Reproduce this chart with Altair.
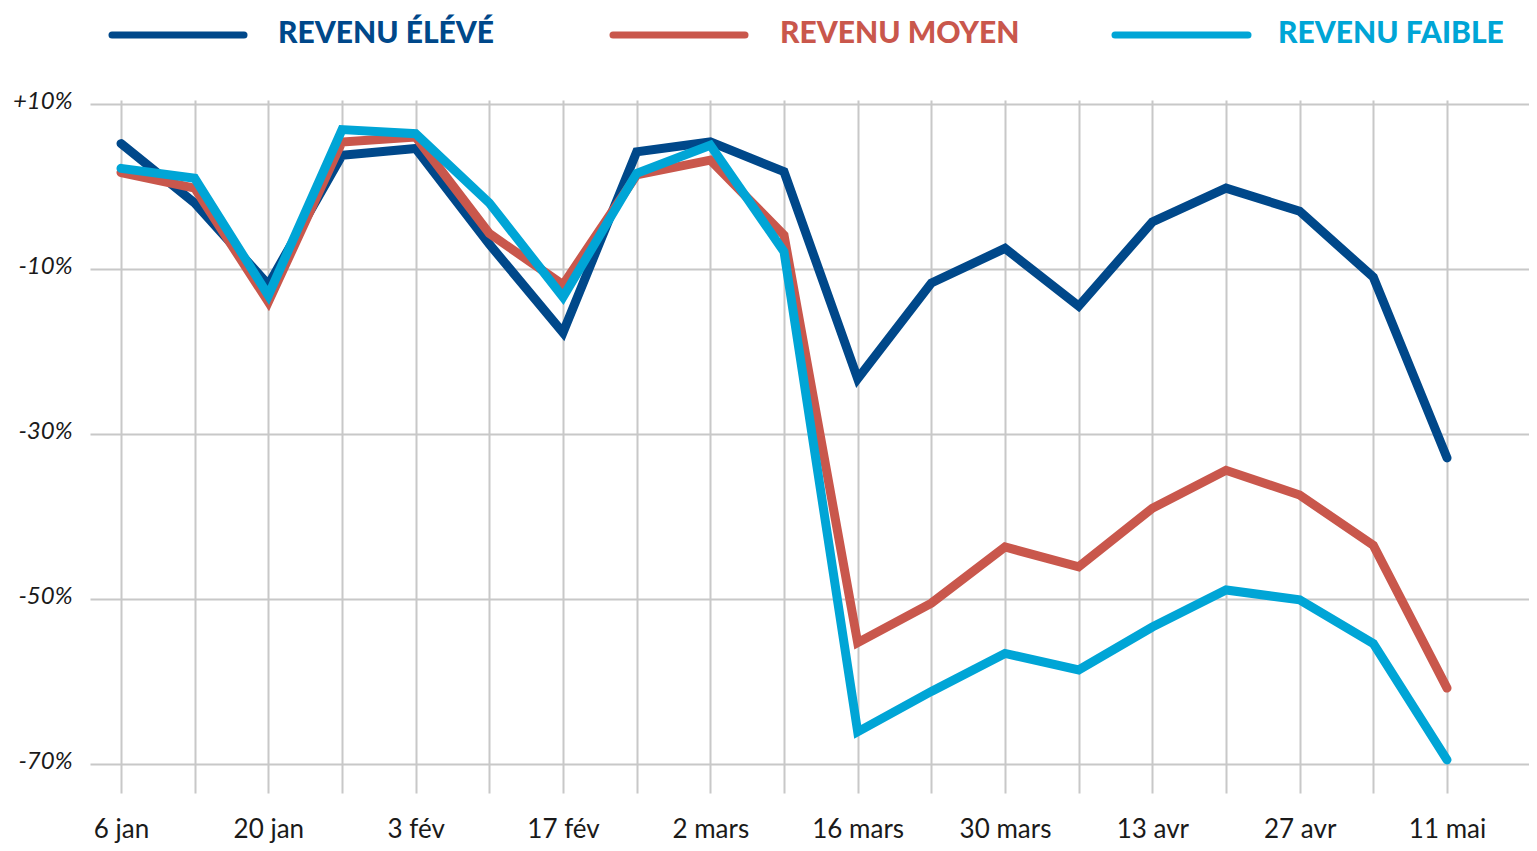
import altair as alt
import pandas as pd

# ---- data ----
semaines = ["6 jan", "13 jan", "20 jan", "27 jan", "3 fév", "10 fév", "17 fév", "24 fév",
            "2 mars", "9 mars", "16 mars", "23 mars", "30 mars", "6 avr", "13 avr",
            "20 avr", "27 avr", "4 mai", "11 mai"]
revenu_eleve = [5.2, -2.0, -11.9, 3.8, 4.6, -7.0, -17.7, 4.2, 5.4, 1.8,
                -23.3, -11.7, -7.5, -14.5, -4.3, -0.2, -3.0, -11.0, -32.9]
revenu_moyen = [1.7, -0.2, -14.0, 5.4, 6.0, -5.7, -11.9, 1.4, 3.2, -5.9,
                -55.3, -50.5, -43.7, -46.1, -39.0, -34.4, -37.4, -43.5, -60.8]
revenu_faible = [2.2, 1.0, -13.2, 6.9, 6.4, -2.0, -13.4, 1.6, 5.0, -7.9,
                 -66.1, -61.2, -56.6, -58.6, -53.4, -48.9, -50.1, -55.4, -69.5]
series = ["REVENU ÉLÉVÉ", "REVENU MOYEN", "REVENU FAIBLE"]
colors = ["#00488a", "#c9574c", "#00a5d6"]
y_ticks = [10, -10, -30, -50, -70]

values = [revenu_eleve, revenu_moyen, revenu_faible]
rows = []
for name, vals in zip(series, values):
    for i, (s, v) in enumerate(zip(semaines, vals)):
        rows.append({"i": i, "semaine": s, "serie": name, "valeur": v})
df = pd.DataFrame(rows)

shown = [s if k % 2 == 0 else "" for k, s in enumerate(semaines)]
label_expr = "[" + ",".join("'" + s + "'" for s in shown) + "][datum.value]"

LABEL_FONT = "Lato, 'Open Sans', sans-serif"
LEGEND_FONT = "Lato, 'Open Sans', sans-serif"

x_enc = alt.X("i:Q",
              scale=alt.Scale(domain=[-0.421, 19.113], nice=False, zero=False),
              axis=alt.Axis(values=list(range(len(semaines))), labelExpr=label_expr,
                            title=None, grid=True, gridColor="#c8c8c8", gridWidth=2,
                            domain=False, domainOpacity=0, ticks=False, tickSize=0,
                            labelFont=LABEL_FONT, labelFontSize=26, labelColor="#1a1a1a",
                            labelPadding=23, labelBaseline="top", labelAngle=0,
                            labelOverlap=False, labelFlush=False))
y_enc = alt.Y("valeur:Q",
              scale=alt.Scale(domain=[-73.515, 10.485], nice=False, zero=False),
              axis=alt.Axis(values=y_ticks,
                            labelExpr="(datum.value > 0 ? '+' : '') + datum.value + '%'",
                            title=None, grid=True, gridColor="#c8c8c8", gridWidth=2,
                            domain=False, domainOpacity=0, ticks=False, tickSize=0,
                            labelFont=LABEL_FONT, labelFontSize=24, labelFontStyle="italic",
                            labelColor="#1a1a1a", labelPadding=18, labelOffset=-3))

base = alt.Chart(df)
layers = []
for k, (name, col) in enumerate(zip(series, colors)):
    layers.append(
        base.transform_filter(alt.datum.serie == name)
        .mark_line(color=col, strokeWidth=9, strokeCap="round", strokeJoin="miter")
        .encode(x=x_enc, y=y_enc)
    )

# custom legend above the plot
legend_line_x = [(22, 154), (523, 655), (1025, 1158)]
legend_text_x = [188, 690, 1188]
for name, col, (lx1, lx2), tx in zip(series, colors, legend_line_x, legend_text_x):
    ldf = pd.DataFrame({"nom": [name]})
    layers.append(
        alt.Chart(ldf).mark_rule(color=col, strokeWidth=7, strokeCap="round")
        .encode(x=alt.value(lx1), x2=alt.value(lx2), y=alt.value(-65))
    )
    layers.append(
        alt.Chart(ldf).mark_text(align="left", baseline="alphabetic", font=LEGEND_FONT,
                                 fontSize=30, fontWeight=900, color=col)
        .encode(x=alt.value(tx), y=alt.value(-57), text="nom:N")
    )

chart = (
    alt.layer(*layers)
    .properties(
        width=1439, height=693,
        padding={"left": 82, "top": 92, "right": 0, "bottom": 50},
        autosize=alt.AutoSizeParams(type="none"),
        view=alt.ViewBackground(strokeOpacity=0, strokeWidth=0),
    )
    .configure_view(strokeOpacity=0, strokeWidth=0)
    .configure_axis(domain=False, ticks=False)
    .configure(background="white")
)

chart.save("out.html", embed_options={"renderer": "svg", "actions": False})
